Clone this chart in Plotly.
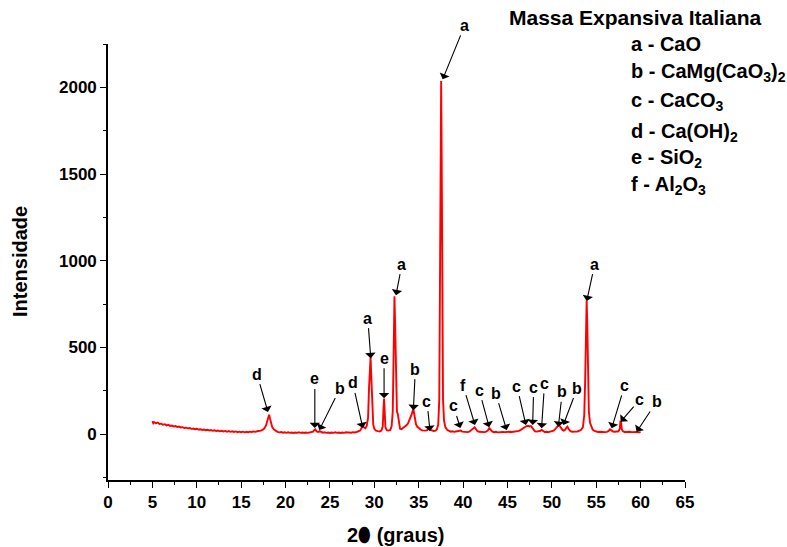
import plotly.graph_objects as go

# XRD scan of the expansive mortar, split by 2-theta region: (2theta, counts)
scan_05_17 = [
    (5.0, 74), (5.1, 62), (5.2, 68), (5.4, 63), (5.6, 66), (5.8, 58), (6.0, 60), (6.2, 54),
    (6.4, 57), (6.6, 50), (6.8, 53), (7.0, 47), (7.2, 49), (7.4, 44), (7.6, 46), (7.8, 41),
    (8.0, 43), (8.2, 38), (8.4, 40), (8.6, 35), (8.8, 37), (9.0, 33), (9.2, 35), (9.4, 30),
    (9.6, 32), (9.8, 28), (10.0, 30), (10.2, 26), (10.4, 28), (10.6, 24), (10.8, 26), (11.0, 22),
    (11.2, 25), (11.4, 21), (11.6, 23), (11.8, 19), (12.0, 22), (12.2, 18), (12.4, 20), (12.6, 16),
    (12.8, 19), (13.0, 15), (13.2, 18), (13.4, 14), (13.6, 17), (13.8, 13), (14.0, 16), (14.2, 12),
    (14.4, 15), (14.6, 11), (14.8, 14), (15.0, 11), (15.2, 14), (15.4, 10), (15.6, 13), (15.8, 11),
    (16.0, 14), (16.2, 12), (16.4, 15), (16.6, 13), (16.8, 16), (17.0, 17), (17.2, 20), (17.4, 24),
]
scan_17_29 = [
    (17.6, 32), (17.8, 50), (17.95, 80), (18.05, 105), (18.15, 112), (18.25, 90), (18.35, 62),
    (18.5, 40), (18.7, 26), (18.9, 18), (19.1, 13), (19.3, 10), (19.5, 12), (19.7, 8), (19.9, 10),
    (20.1, 7), (20.3, 10), (20.5, 7), (20.7, 9), (20.9, 6), (21.1, 9), (21.3, 7), (21.5, 10),
    (21.7, 7), (21.9, 9), (22.1, 6), (22.3, 9), (22.5, 7), (22.7, 10), (22.9, 9), (23.1, 14),
    (23.25, 24), (23.35, 27), (23.5, 15), (23.7, 12), (23.85, 17), (24.0, 11), (24.2, 8), (24.4, 10),
    (24.6, 7), (24.8, 9), (25.0, 6), (25.2, 9), (25.4, 7), (25.6, 10), (25.8, 7), (26.0, 9),
    (26.2, 6), (26.4, 9), (26.6, 7), (26.8, 10), (27.0, 8), (27.2, 10), (27.4, 8), (27.6, 11),
    (27.8, 9), (28.0, 12), (28.2, 14), (28.4, 20), (28.55, 34), (28.7, 45), (28.85, 38), (29.0, 34),
]
scan_29_37 = [
    (29.15, 48), (29.3, 95), (29.4, 260), (29.5, 420), (29.58, 445), (29.66, 330), (29.76, 130),
    (29.88, 55), (30.0, 30), (30.2, 20), (30.4, 17), (30.6, 15), (30.8, 20), (30.95, 45),
    (31.03, 140), (31.1, 205), (31.17, 130), (31.25, 40), (31.4, 22), (31.6, 20), (31.8, 24),
    (31.95, 45), (32.08, 130), (32.18, 420), (32.27, 795), (32.36, 600), (32.45, 280), (32.55, 130),
    (32.65, 115), (32.75, 70), (32.9, 30), (33.05, 28), (33.2, 34), (33.35, 40), (33.5, 44),
    (33.65, 52), (33.8, 62), (33.95, 78), (34.1, 95), (34.2, 112), (34.3, 130), (34.4, 145),
    (34.48, 120), (34.58, 80), (34.7, 55), (34.85, 42), (35.0, 34), (35.2, 26), (35.4, 21),
    (35.6, 19), (35.8, 20), (36.0, 24), (36.15, 30), (36.3, 24), (36.5, 19), (36.7, 18), (36.9, 20),
]
scan_37_46 = [
    (37.05, 28), (37.2, 55), (37.32, 200), (37.4, 900), (37.47, 1700), (37.53, 2036), (37.59, 1600),
    (37.66, 700), (37.74, 200), (37.85, 80), (38.0, 40), (38.2, 25), (38.4, 18), (38.6, 14),
    (38.8, 16), (39.0, 13), (39.2, 15), (39.4, 17), (39.6, 22), (39.75, 20), (39.9, 14), (40.1, 12),
    (40.3, 14), (40.5, 11), (40.7, 14), (40.9, 20), (41.1, 30), (41.3, 40), (41.45, 30), (41.6, 18),
    (41.8, 13), (42.0, 11), (42.2, 13), (42.4, 11), (42.6, 14), (42.8, 22), (42.95, 34), (43.1, 22),
    (43.3, 14), (43.5, 11), (43.7, 13), (43.9, 10), (44.1, 12), (44.3, 10), (44.5, 12), (44.7, 11),
    (44.9, 13), (45.1, 11), (45.3, 13), (45.5, 12), (45.7, 14), (45.9, 13),
]
scan_46_60 = [
    (46.1, 16), (46.3, 18), (46.5, 24), (46.7, 32), (46.9, 40), (47.1, 45), (47.3, 48), (47.5, 44),
    (47.65, 46), (47.8, 38), (47.95, 24), (48.1, 16), (48.3, 14), (48.5, 15), (48.7, 19), (48.85, 24),
    (49.0, 17), (49.2, 12), (49.4, 13), (49.6, 11), (49.8, 14), (50.0, 15), (50.2, 20), (50.4, 30),
    (50.6, 45), (50.75, 52), (50.9, 46), (51.05, 34), (51.2, 24), (51.35, 20), (51.5, 24), (51.65, 38),
    (51.75, 43), (51.9, 28), (52.1, 17), (52.3, 13), (52.5, 12), (52.7, 14), (52.9, 15), (53.1, 18),
    (53.3, 25), (53.5, 40), (53.65, 110), (53.75, 300), (53.85, 620), (53.92, 770), (53.99, 640),
    (54.07, 330), (54.17, 130), (54.3, 65), (54.45, 38), (54.6, 26), (54.8, 18), (55.0, 14),
    (55.2, 12), (55.4, 13), (55.6, 11), (55.8, 12), (56.0, 11), (56.2, 13), (56.4, 18), (56.55, 27),
    (56.7, 20), (56.9, 14), (57.1, 13), (57.3, 15), (57.5, 16), (57.65, 30), (57.72, 72), (57.8, 70),
    (57.88, 28), (58.0, 16), (58.2, 12), (58.4, 13), (58.6, 11), (58.8, 13), (59.0, 11), (59.2, 12),
    (59.4, 10), (59.6, 12), (59.8, 10), (60.0, 11),
]

# Phase identification marks: letter, 2theta and counts at the arrow tip
peak_letters = ["d", "e", "b", "d", "a", "e", "a", "b", "c", "a", "c", "f",
                "c", "b", "c", "c", "c", "b", "b", "a", "c", "c", "b"]
peak_2theta = [18.02, 23.3, 23.8, 28.7, 29.6, 31.1, 32.44, 34.4, 36.27, 37.7, 39.7, 41.34,
               42.94, 44.91, 47.08, 47.84, 48.84, 50.73, 51.29, 53.93, 56.74, 57.76, 59.55]
peak_counts = [127, 35, 23, 35, 438, 207, 801, 138, 17, 2046, 35, 52,
               40, 23, 52, 52, 33, 42, 52, 767, 33, 71, 13]
# label offsets from the arrow tip, in pixels
label_dx = [-11, 0, 21, -10, -3, 0, 6, 2, -3, 22, -7, -12,
            -10, -11, -9, 1, 3, 4, 14, 8, 13, 19, 20]
label_dy = [-38, -49, -42, -45, -40, -40, -31, -41, -30, -54, -22, -40,
            -37, -37, -39, -38, -45, -35, -37, -37, -43, -22, -30]

sample_title = "Massa Expansiva Italiana"
phase_key = ["a - CaO", "b - CaMg(CaO<sub>3</sub>)<sub>2</sub>", "c - CaCO<sub>3</sub>",
             "d - Ca(OH)<sub>2</sub>", "e - SiO<sub>2</sub>", "f - Al<sub>2</sub>O<sub>3</sub>"]

segments = [scan_05_17, scan_17_29, scan_29_37, scan_37_46, scan_46_60]
two_theta = [p[0] for seg in segments for p in seg]
counts = [p[1] for seg in segments for p in seg]

FONT = "Liberation Sans, Arial, sans-serif"

fig = go.Figure()
fig.add_trace(go.Scatter(x=two_theta, y=counts, mode="lines",
                         line=dict(color="#ff0000", width=1.9), showlegend=False))

annotations = []
for txt, px, py, dx, dy in zip(peak_letters, peak_2theta, peak_counts, label_dx, label_dy):
    annotations.append(dict(
        x=px, y=py, xref="x", yref="y", text=txt, showarrow=True,
        ax=dx, ay=dy, arrowhead=1, arrowsize=1.6, arrowwidth=1.1, arrowcolor="black",
        standoff=0, startstandoff=0,
        font=dict(family=FONT, size=16, color="black", weight="bold"),
    ))

annotations.append(dict(x=0.913, y=1.06, xref="paper", yref="paper", text=sample_title,
                        showarrow=False, xanchor="center", yanchor="middle",
                        font=dict(family=FONT, size=21, color="black", weight="bold")))
key_y = [1.0, 0.934, 0.867, 0.798, 0.737, 0.675]
for line, yy in zip(phase_key, key_y):
    annotations.append(dict(x=0.903, y=yy, xref="paper", yref="paper", text=line,
                            showarrow=False, xanchor="left", yanchor="middle",
                            font=dict(family=FONT, size=20, color="black", weight="bold")))

annotations.append(dict(x=-0.1525, y=0.5, xref="paper", yref="paper", text="Intensidade",
                        showarrow=False, textangle=-90, xanchor="center", yanchor="middle",
                        font=dict(family=FONT, size=20, color="black", weight="bold")))
annotations.append(dict(x=0.499, y=-0.126, xref="paper", yref="paper", text="2\u2b2e (graus)",
                        showarrow=False, xanchor="center", yanchor="middle",
                        font=dict(family=FONT, size=20, color="black", weight="bold")))

axis_common = dict(showline=True, linecolor="black", linewidth=1.6, showgrid=False,
                   zeroline=False, ticks="outside", ticklen=6, tickwidth=1.4, tickcolor="black",
                   tickfont=dict(family=FONT, size=17, color="black", weight="bold"))

fig.update_layout(
    width=787, height=547,
    margin=dict(l=108, r=102, t=44, b=67),
    paper_bgcolor="white", plot_bgcolor="white",
    xaxis=dict(range=[0, 65], dtick=5, tick0=0,
               minor=dict(dtick=2.5, ticks="outside", ticklen=3, tickcolor="black", tickwidth=1.2),
               **axis_common),
    yaxis=dict(range=[-265, 2250], dtick=500, tick0=0,
               minor=dict(dtick=250, ticks="outside", ticklen=3, tickcolor="black", tickwidth=1.2),
               **axis_common),
    annotations=annotations,
)

fig.write_html("out.html")
